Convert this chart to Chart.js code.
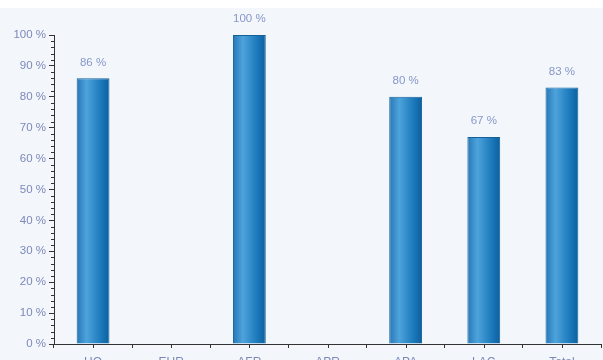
<!DOCTYPE html>
<html>
<head>
<meta charset="utf-8">
<script src="https://cdn.jsdelivr.net/npm/chart.js@4/dist/chart.umd.min.js"></script>
<style>
  html, body { margin: 0; padding: 0; background: #ffffff; }
  #wrap { position: absolute; left: 0; top: 0; width: 603px; height: 360px; }
</style>
</head>
<body>
<div id="wrap"><canvas id="chart" width="603" height="360"></canvas></div>
<script>
// Chart data
const categories = ['HQ', 'EUR', 'AFR', 'APR', 'APA', 'LAC', 'Total'];
const percentValues = [86, null, 100, null, 80, 67, 83];
const yTickStep = 10;
const yMinorStep = 2;

const BAR_PCT = 0.42;
const labelColor = '#7d88b9';

// light blue panel below a thin white strip
const panelBg = {
    id: 'panelBg',
    beforeDraw(chart) {
        const ctx = chart.ctx;
        ctx.save();
        ctx.fillStyle = '#f3f7fc';
        ctx.fillRect(0, 8, chart.width, chart.height - 8);
        ctx.restore();
    }
};

// minor y ticks and x ticks under each category
const extraTicks = {
    id: 'extraTicks',
    afterDraw(chart) {
        const ctx = chart.ctx;
        const x = chart.scales.x;
        const y = chart.scales.y;
        ctx.save();
        ctx.strokeStyle = '#333';
        ctx.lineWidth = 1;
        ctx.beginPath();
        for (let v = 0; v <= 100; v += yMinorStep) {
            if (v % yTickStep === 0) continue;
            const py = Math.round(y.getPixelForValue(v)) + 0.5;
            ctx.moveTo(x.left - 3, py);
            ctx.lineTo(x.left, py);
        }
        categories.forEach((c, i) => {
            const px = Math.round(x.getPixelForValue(i)) + 0.5;
            ctx.moveTo(px, y.bottom);
            ctx.lineTo(px, y.bottom + 4);
        });
        ctx.stroke();
        ctx.restore();
    }
};

// value labels above the bars
const valueLabels = {
    id: 'valueLabels',
    afterDatasetsDraw(chart) {
        const ctx = chart.ctx;
        const meta = chart.getDatasetMeta(0);
        ctx.save();
        ctx.font = '11.5px "Liberation Sans", Arial, sans-serif';
        ctx.fillStyle = '#8797c8';
        ctx.textAlign = 'center';
        ctx.textBaseline = 'bottom';
        meta.data.forEach((bar, i) => {
            const v = percentValues[i];
            if (v === null) return;
            ctx.fillText(v + ' %', bar.x, bar.y - 10);
        });
        ctx.restore();
    }
};

function barGradient(context) {
    const chart = context.chart;
    const xs = chart.scales.x;
    if (!xs || context.dataIndex === undefined) return '#2a82c2';
    const cx = xs.getPixelForValue(context.dataIndex);
    const w = (xs.width / categories.length) * BAR_PCT;
    if (!isFinite(cx) || !isFinite(w) || w <= 0) return '#2a82c2';
    const g = chart.ctx.createLinearGradient(cx - w / 2, 0, cx + w / 2, 0);
    g.addColorStop(0, '#2677b5');
    g.addColorStop(0.3, '#4ea3dc');
    g.addColorStop(0.75, '#1b78ba');
    g.addColorStop(1, '#0c5f9e');
    return g;
}

const ctx = document.getElementById('chart').getContext('2d');
new Chart(ctx, {
    type: 'bar',
    data: {
        labels: categories,
        datasets: [{
            data: percentValues,
            backgroundColor: barGradient,
            borderColor: '#16609a',
            borderWidth: 1,
            barPercentage: BAR_PCT,
            categoryPercentage: 1
        }]
    },
    options: {
        responsive: false,
        animation: false,
        layout: { padding: { top: 35, right: 2, left: 0, bottom: 0 } },
        plugins: {
            legend: { display: false },
            tooltip: { enabled: false }
        },
        scales: {
            y: {
                min: 0,
                max: 100,
                ticks: {
                    stepSize: yTickStep,
                    color: labelColor,
                    padding: 3,
                    font: { family: '"Liberation Sans", Arial, sans-serif', size: 11.5 },
                    callback: v => v + ' %'
                },
                grid: { drawOnChartArea: false, tickLength: 5, color: '#333' },
                border: { display: true, color: '#333' },
                afterFit(scale) { scale.width = 54; }
            },
            x: {
                offset: true,
                ticks: {
                    color: labelColor,
                    padding: 7,
                    font: { family: '"Liberation Sans", Arial, sans-serif', size: 12 }
                },
                grid: { offset: true, drawOnChartArea: false, tickLength: 4, color: '#333' },
                border: { display: true, color: '#333' },
                afterFit(scale) { scale.height = 16; }
            }
        }
    },
    plugins: [panelBg, extraTicks, valueLabels]
});
</script>
</body>
</html>
